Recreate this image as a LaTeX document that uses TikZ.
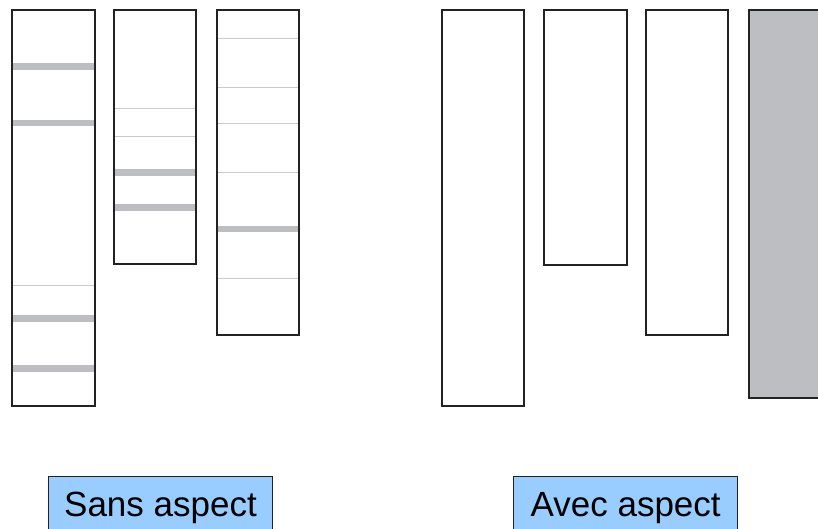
\documentclass[tikz,border=0pt]{standalone}
\usepackage{fontspec}
\setmainfont{Liberation Sans}
\definecolor{bandgrey}{HTML}{BDBEC2}
\definecolor{rulegrey}{HTML}{CACACC}
\definecolor{labelblue}{HTML}{99CCFF}
\definecolor{edge}{HTML}{222222}
\begin{document}
\begin{tikzpicture}[x=1pt,y=-1pt,
  column/.style={draw=edge,line width=2pt},
  band/.style={draw=bandgrey,line width=6.5pt},
  rule/.style={draw=rulegrey,line width=1pt},
  caption/.style={draw=edge,line width=0.8pt,fill=labelblue,font=\fontsize{35}{40}\selectfont,
    minimum width=224pt,minimum height=64pt,inner sep=0pt,anchor=north}]
\useasboundingbox (0,0) rectangle (818,529);
\fill[white] (0,0) rectangle (818,529);

% left group: columns split into segments
\foreach \y in {66.7,123,318.3,368.3} \draw[band] (12.3,\y) -- (94.7,\y);
\draw[rule] (12.3,285.7) -- (94.7,285.7);
\foreach \y in {108.7,137} \draw[rule] (114.3,\y) -- (196.3,\y);
\foreach \y in {172.7,207.7} \draw[band] (114.3,\y) -- (196.3,\y);
\foreach \y in {39,87.7,123.7,172.3,278} \draw[rule] (217,\y) -- (298.7,\y);
\draw[band] (217,229) -- (298.7,229);
\draw[column] (12.3,9.7) rectangle (94.7,406);
\draw[column] (114.3,9.7) rectangle (196.3,264);
\draw[column] (217,9.7) rectangle (298.7,334.7);

% right group: plain columns
\draw[column] (441.7,9.7) rectangle (524,406);
\draw[column] (544,9.7) rectangle (627.3,265.3);
\draw[column] (646.3,9.7) rectangle (728.3,334.7);
\draw[column,fill=bandgrey] (749.3,9.7) rectangle (830,398.3);

% captions
\node[caption] (sans) at (160.5,476) {Sans aspect};
\node[caption] (avec) at (625.7,476) {Avec aspect};
\end{tikzpicture}
\end{document}
